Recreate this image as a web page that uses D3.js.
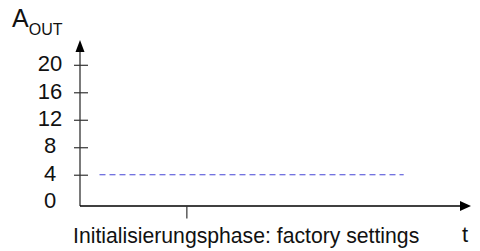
<!DOCTYPE html>
<html>
<head>
<meta charset="utf-8">
<script src="https://cdn.jsdelivr.net/npm/d3@7"></script>
<style>
  body { margin: 0; background: #fff; }
  svg { display: block; font-family: "Liberation Sans", Arial, sans-serif; }
</style>
</head>
<body>
<div id="chart"></div>
<script>
// data
const yTicks = [0, 4, 8, 12, 16, 20]
const phaseLabels = ["Initialisierungsphase: factory settings"]
const phaseTicks = [27.4]           // position of the phase tick on the time axis
const aoutTimes = [5, 83]           // start / end of the A_OUT level
const aoutValues = [4, 4]

const width = 480, height = 251

const svg = d3.select("#chart").append("svg")
  .attr("width", width)
  .attr("height", height)

// scales
const x = d3.scaleLinear().domain([0, 100]).range([80, 470])
const y = d3.scaleLinear().domain([0, 20]).range([202.2, 64.8])
const axisY = 206

// y axis with ticks crossing the line
const yAxis = svg.append("g")
  .attr("transform", `translate(${x(0)},0)`)
  .call(d3.axisLeft(y).tickValues(yTicks).tickSize(6))

yAxis.select(".domain").remove()
yAxis.selectAll(".tick line")
  .attr("x1", 8)
  .attr("x2", -6)
  .attr("stroke", "#333")
  .attr("stroke-width", 1.2)
yAxis.selectAll(".tick").filter(d => d === 0).select("line").remove()
yAxis.selectAll(".tick text")
  .attr("x", -30)
  .attr("dy", "0.26em")
  .attr("text-anchor", "middle")
  .attr("font-size", 22)
  .attr("fill", "#111")
  .attr("font-family", "Liberation Sans, Arial, sans-serif")

// y axis line + arrow
svg.append("line")
  .attr("x1", x(0)).attr("x2", x(0))
  .attr("y1", axisY).attr("y2", 50)
  .attr("stroke", "#333")
  .attr("stroke-width", 1.3)
svg.append("path")
  .attr("d", `M${x(0)},40 L${x(0) - 4.5},52 L${x(0) + 4.5},52 Z`)
  .attr("fill", "#000")

// x axis line + arrow
svg.append("line")
  .attr("x1", x(0)).attr("x2", 461)
  .attr("y1", axisY).attr("y2", axisY)
  .attr("stroke", "#000")
  .attr("stroke-width", 1.3)
svg.append("path")
  .attr("d", `M471,${axisY} L460,${axisY - 5} L460,${axisY + 5} Z`)
  .attr("fill", "#000")

// phase ticks
svg.selectAll(".phase-tick")
  .data(phaseTicks)
  .join("line")
  .attr("class", "phase-tick")
  .attr("x1", d => x(d)).attr("x2", d => x(d))
  .attr("y1", axisY).attr("y2", axisY + 12.5)
  .attr("stroke", "#333")
  .attr("stroke-width", 1.2)

svg.selectAll(".phase-label")
  .data(phaseLabels)
  .join("text")
  .attr("class", "phase-label")
  .attr("x", x(0) - 7)
  .attr("y", 243)
  .attr("font-size", 21.2)
  .attr("fill", "#111")
  .text(d => d)

// A_OUT level (dashed)
const line = d3.line()
  .x(d => x(d[0]))
  .y(d => y(d[1]))
svg.append("path")
  .datum(d3.zip(aoutTimes, aoutValues))
  .attr("d", line)
  .attr("fill", "none")
  .attr("stroke", "#4646d6")
  .attr("stroke-width", 1.1)
  .attr("stroke-dasharray", "6,4")

// axis titles
const yTitle = svg.append("text")
  .attr("x", 12)
  .attr("y", 27)
  .attr("fill", "#111")
yTitle.append("tspan").attr("font-size", 25).text("A")
yTitle.append("tspan").attr("font-size", 16).attr("dy", 8).attr("dx", 0).text("OUT")

svg.append("text")
  .attr("x", 465)
  .attr("y", 242)
  .attr("text-anchor", "middle")
  .attr("font-size", 22)
  .attr("fill", "#111")
  .text("t")
</script>
</body>
</html>
